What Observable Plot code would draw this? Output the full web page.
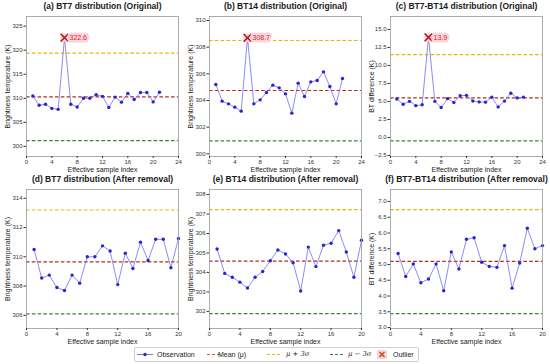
<!DOCTYPE html>
<html><head><meta charset="utf-8">
<script src="https://cdn.jsdelivr.net/npm/d3@7"></script>
<script src="https://cdn.jsdelivr.net/npm/@observablehq/plot@0.6"></script>
<style>
body{margin:0;background:#fff;font-family:"Liberation Sans",Arial,sans-serif}
#wrap{position:relative;width:550px;height:364px;overflow:hidden}
.panel{position:absolute}
#legend{position:absolute;left:134px;top:347px;width:283px;height:13px;border:1px solid #cfcfcf;border-radius:2px;background:#fff;font-size:7px;color:#222}
#legend .it{position:absolute;top:0;height:13px;line-height:13px;white-space:nowrap}
#legend svg{position:absolute;top:0}
</style></head><body><div id="wrap"><div id="legend"></div></div>
<script>
// ---------- data ----------
const sampleIndexOriginal = [1,2,3,4,5,6,7,8,9,10,11,12,13,14,15,16,17,18,19,20,21];
const sampleIndexRemoved  = [1,2,3,4,5,6,7,8,9,10,11,12,13,14,15,16,17,18,19,20];

const bt7Original  = [310.5,308.55,308.75,307.9,307.7,322.6,308.75,308.2,310.0,310.0,310.75,310.4,308.1,310.25,309.2,311.0,309.75,311.2,311.2,309.25,311.25];
const bt14Original = [305.2,303.95,303.75,303.5,303.2,308.7,303.75,304.05,304.6,305.15,304.95,304.5,303.05,305.3,304.3,305.4,305.5,306.15,305.05,303.75,305.65];
const diffOriginal = [5.35,4.62,5.02,4.42,4.54,13.9,5.02,4.17,5.4,4.86,5.8,5.85,5.07,4.94,4.91,5.6,4.25,5.05,6.15,5.5,5.6];

const bt7Removed  = [310.5,308.55,308.75,307.9,307.7,308.75,308.2,310.0,310.0,310.75,310.4,308.1,310.25,309.2,311.0,309.75,311.2,311.2,309.25,311.25];
const bt14Removed = [305.2,303.95,303.75,303.5,303.2,303.75,304.05,304.6,305.15,304.95,304.5,303.05,305.3,304.3,305.4,305.5,306.15,305.05,303.75,305.65];
const diffRemoved = [5.35,4.62,5.02,4.42,4.54,5.02,4.17,5.4,4.86,5.8,5.85,5.07,4.94,4.91,5.6,4.25,5.05,6.15,5.5,5.6];

// [mean, mean+3σ, mean-3σ]
const statsBt7Original  = [310.3, 319.4, 301.2];
const statsBt14Original = [304.75, 308.5, 300.97];
const statsDiffOriginal = [5.51, 11.5, -0.46];
const statsBt7Removed   = [309.65, 313.2, 306.1];
const statsBt14Removed  = [304.58, 307.23, 301.88];
const statsDiffRemoved  = [5.1, 6.74, 3.44];

const outlierIndex = [6];
const outlierLabels = ["322.6", "308.7", "13.9"];

const titles = [
  "(a) BT7 distribution (Original)",
  "(b) BT14 distribution (Original)",
  "(c) BT7-BT14 distribution (Original)",
  "(d) BT7 distribution (After removal)",
  "(e) BT14 distribution (After removal)",
  "(f) BT7-BT14 distribution (After removal)"
];
const yLabels = ["Brightness temperature (K)", "Brightness temperature (K)", "BT difference (K)"];
const xLabel = "Effective sample index";

const xTicksOriginal = [0,4,8,12,16,20,24];
const xTicksRemoved  = [0,4,8,12,16,20];
const yTicksA = [300,305,310,315,320,325];
const yTicksB = [300,302,304,306,308,310];
const yTicksC = [-2.5,0,2.5,5,7.5,10,12.5,15];
const yTicksD = [306,308,310,312,314];
const yTicksE = [302,303,304,305,306,307,308];
const yTicksF = [3,3.5,4,4.5,5,5.5,6,6.5,7];

// ---------- styles ----------
const C = {
  line: "#7a78ee", dot: "#2626cc",
  mean: "#a8321e", up: "#e2b90c", low: "#2f8a2f",
  out: "#b81414", outBg: "#fbd3db", label: "#c83030"
};

const fmt1 = d => d.toFixed(1).replace("-", "\u2212");
const fmt0 = d => String(d);

const panels = [
  {x: sampleIndexOriginal, y: bt7Original,  s: statsBt7Original,  yd:[297.9,327.0], yt:yTicksA, yf:fmt0, xd:[0,24], xt:xTicksOriginal, out:0, title:titles[0], yl:yLabels[0], left:0,   top:0},
  {x: sampleIndexOriginal, y: bt14Original, s: statsBt14Original, yd:[299.8,310.3], yt:yTicksB, yf:fmt0, xd:[0,24], xt:xTicksOriginal, out:1, title:titles[1], yl:yLabels[1], left:183, top:0},
  {x: sampleIndexOriginal, y: diffOriginal, s: statsDiffOriginal, yd:[-2.64,16.8], yt:yTicksC, yf:fmt1, xd:[0,24], xt:xTicksOriginal, out:2, title:titles[2], yl:yLabels[2], left:364, top:0},
  {x: sampleIndexRemoved,  y: bt7Removed,   s: statsBt7Removed,   yd:[305.1,314.6], yt:yTicksD, yf:fmt0, xd:[0,20], xt:xTicksRemoved, out:-1, title:titles[3], yl:yLabels[0], left:0,   top:173},
  {x: sampleIndexRemoved,  y: bt14Removed,  s: statsBt14Removed,  yd:[301.12,308.26], yt:yTicksE, yf:fmt0, xd:[0,20], xt:xTicksRemoved, out:-1, title:titles[4], yl:yLabels[1], left:183, top:173},
  {x: sampleIndexRemoved,  y: diffRemoved,  s: statsDiffRemoved,  yd:[2.97,7.38], yt:yTicksF, yf:fmt1, xd:[0,20], xt:xTicksRemoved, out:-1, title:titles[5], yl:yLabels[2], left:364, top:173},
];

const wrap = document.getElementById("wrap");

panels.forEach((p, i) => {
  const rows = p.x.map((xv, k) => ({x: xv, y: p.y[k]}));
  const h = p.top === 0 ? 170 : 172;
  const mb = p.top === 0 ? 14 : 17;
  const outRows = p.out >= 0 ? outlierIndex.map(ix => ({x: ix, y: p.y[p.x.indexOf(ix)], t: outlierLabels[p.out]})) : [];
  const dash = "3.6,2.2";
  const chart = Plot.plot({
    width: 184, height: h,
    marginLeft: 26, marginRight: 6, marginTop: 16, marginBottom: mb,
    style: {fontFamily: "'Liberation Sans', Arial, sans-serif", fontSize: "6px", color: "#333", background: "transparent", overflow: "visible"},
    x: {domain: p.xd, label: null},
    y: {domain: p.yd, label: null},
    marks: [
      Plot.ruleY([p.s[1]], {stroke: C.up, strokeWidth: 1.2, strokeDasharray: dash}),
      Plot.ruleY([p.s[0]], {stroke: C.mean, strokeWidth: 1.2, strokeDasharray: dash}),
      Plot.ruleY([p.s[2]], {stroke: C.low, strokeWidth: 1.2, strokeDasharray: dash}),
      Plot.line(rows, {x: "x", y: "y", stroke: C.line, strokeWidth: 1, strokeOpacity: 0.85}),
      Plot.dot(rows, {x: "x", y: "y", r: 1.7, fill: C.dot, stroke: "none"}),
      Plot.dot(outRows, {x: "x", y: "y", symbol: "square", r: 4.5, fill: C.outBg, stroke: "none"}),
      Plot.dot(outRows, {x: "x", y: "y", symbol: "times", r: 3.6, stroke: C.out, strokeWidth: 1.6}),
      Plot.text(outRows, {x: "x", y: "y", text: "t", dx: 5, textAnchor: "start", fill: C.label, stroke: C.outBg, strokeWidth: 5, paintOrder: "stroke", fontSize: 7}),
      Plot.frame({stroke: "#9a9a9a", strokeWidth: 0.8}),
      Plot.axisX({ticks: p.xt, tickSize: 2, tickPadding: 1, tickFormat: fmt0, label: null, fontSize: 6}),
      Plot.axisY({ticks: p.yt, tickSize: 2.5, tickPadding: 1.5, tickFormat: p.yf, label: null, fontSize: 6}),
      Plot.text([p.title], {frameAnchor: "top", dy: -10, lineAnchor: "middle", textAnchor: "middle", fontWeight: "bold", fontSize: 8.5, fill: "#1a1a1a"}),
      Plot.text([xLabel], {frameAnchor: "bottom", dy: 13, lineAnchor: "middle", textAnchor: "middle", fontSize: 7, fill: "#222"}),
      Plot.text([p.yl], {frameAnchor: "left", dx: -19, rotate: -90, lineAnchor: "middle", textAnchor: "middle", fontSize: 7, fill: "#222"})
    ]
  });
  chart.classList.add("panel");
  chart.style.left = p.left + "px";
  chart.style.top = p.top + "px";
  wrap.appendChild(chart);
});

// ---------- legend ----------
const legendItems = [
  {label: "Observation", kind: "obs", sx: 2,   tx: 22},
  {label: "Mean (\u03bc)", kind: "mean", sx: 72, tx: 83},
  {label: "\u03bc + 3\u03c3", kind: "up", sx: 132, tx: 151},
  {label: "\u03bc \u2212 3\u03c3", kind: "low", sx: 195, tx: 213},
  {label: "Outlier", kind: "out", sx: 241, tx: 258}
];
const lg = document.getElementById("legend");
legendItems.forEach(it => {
  let sw = "";
  if (it.kind === "obs") {
    sw = `<svg width="16" height="13" style="left:${it.sx}px"><line x1="0" y1="6.5" x2="16" y2="6.5" stroke="${C.line}" stroke-width="1"/><circle cx="8" cy="6.5" r="1.7" fill="${C.dot}"/></svg>`;
  } else if (it.kind === "out") {
    sw = `<svg width="12" height="13" style="left:${it.sx}px"><rect x="1" y="2" width="10" height="9" fill="${C.outBg}"/><path d="M3.5 4 L8.5 9 M8.5 4 L3.5 9" stroke="#c2561c" stroke-width="1.6"/></svg>`;
  } else {
    const col = it.kind === "mean" ? "#d0603a" : it.kind === "up" ? C.up : C.low;
    sw = `<svg width="14" height="13" style="left:${it.sx}px"><line x1="0" y1="6.5" x2="14" y2="6.5" stroke="${col}" stroke-width="1.1" stroke-dasharray="3,2"/></svg>`;
  }
  const isMath = it.kind === "up" || it.kind === "low";
  lg.insertAdjacentHTML("beforeend", sw + `<span class="it" style="left:${it.tx}px;${isMath ? "font-style:italic;font-family:'DejaVu Serif',serif;font-size:6.8px" : ""}">${it.label}</span>`);
});
</script>
</body></html>
